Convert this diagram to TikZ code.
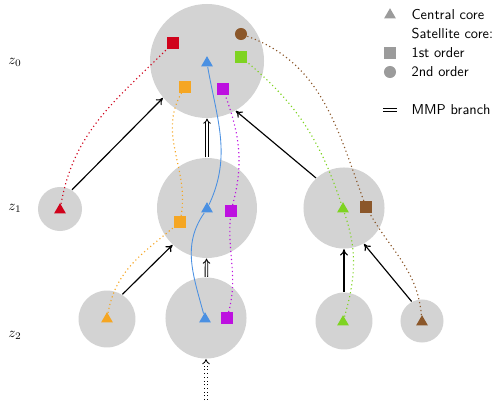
\documentclass[tikz,border=0pt]{standalone}
\usepackage{xcolor}
\usepackage{amsmath}
\usepackage{tikz}
\usetikzlibrary{arrows.meta,shapes.geometric}

\definecolor{haloGray}{RGB}{211,211,211}
\definecolor{keyGray}{HTML}{9B9B9B}
\definecolor{coreRed}{HTML}{D0021B}
\definecolor{coreOrange}{HTML}{F5A623}
\definecolor{coreBrown}{HTML}{8B572A}
\definecolor{coreGreen}{HTML}{7ED321}
\definecolor{corePurple}{HTML}{BD10E0}
\definecolor{coreBlue}{HTML}{4A90E2}

\begin{document}
\begin{tikzpicture}[x=0.0245cm,y=-0.0245cm,>={To[length=4.5pt,width=5.5pt]},thick,
    halo node/.style={circle,fill=haloGray,inner sep=0pt},
    tri node/.style={regular polygon,regular polygon sides=3,inner sep=0pt,minimum size=9.5pt},
    sq node/.style={rectangle,inner sep=0pt,minimum size=7.7pt},
    dot node/.style={circle,inner sep=0pt,minimum size=8.4pt},
    mmp/.style={double,double distance=1.2pt,line width=0.6pt},
    mmp tip/.style={-{Implies[length=4pt,width=7pt]}},
    track/.style={dotted,line width=0.8pt},
    key text/.style={anchor=west,inner sep=0pt,font=\sffamily}]
    \useasboundingbox (0,0) rectangle (498,405);

    % halos
    \node[halo node,minimum size=79.5pt] (0) at (207,61) {};
    \node[halo node,minimum size=30.7pt] (1) at (60,209) {};
    \node[halo node,minimum size=69.7pt] (2) at (207,208) {};
    \node[halo node,minimum size=56.5pt] (3) at (344,208) {};
    \node[halo node,minimum size=39.7pt] (4) at (107,319) {};
    \node[halo node,minimum size=56.5pt] (5) at (206,318) {};
    \node[halo node,minimum size=39.7pt] (6) at (344,321) {};
    \node[halo node,minimum size=30pt] (7) at (422,321) {};

    \node (l0) at (15,62) {$z_0$};
    \node (l1) at (15,208) {$z_1$};
    \node (l2) at (15,335) {$z_2$};

    \path[->]
    (1.58) edge (0.-140)
    (3.133) edge (0.-60)
    (4.58) edge (2.-133)
    (6) edge (3)
    (7.118) edge (3.-61);

    \coordinate (in) at (206,400);
    \draw[mmp,mmp tip] (2) -- (0);
    \draw[mmp,mmp tip] (5) -- (2);
    \draw[mmp,dotted,mmp tip] (in) -- (5);

    % cores
    \node[sq node,fill=coreRed] (0r) at (173,43) {};
    \node[dot node,fill=coreBrown] (0b) at (241,34) {};
    \node[sq node,fill=coreGreen] (0g) at (241,57) {};
    \node[tri node,fill=coreBlue] (0c) at (207,63) {};
    \node[sq node,fill=coreOrange] (0o) at (185,87) {};
    \node[sq node,fill=corePurple] (0p) at (223,89) {};
    \node[tri node,fill=coreRed] (1c) at (60,210) {};
    \node[tri node,fill=coreBlue] (2c) at (207,209) {};
    \node[sq node,fill=corePurple] (2p) at (231,211) {};
    \node[sq node,fill=coreOrange] (2o) at (180,222) {};
    \node[tri node,fill=coreGreen] (3c) at (343,209) {};
    \node[sq node,fill=coreBrown] (3b) at (366,207) {};
    \node[tri node,fill=coreOrange] (4c) at (107,319) {};
    \node[tri node,fill=coreBlue] (5c) at (205,319) {};
    \node[sq node,fill=corePurple] (5p) at (227,318) {};
    \node[tri node,fill=coreGreen] (6c) at (343,322) {};
    \node[tri node,fill=coreBrown] (7c) at (422,322) {};

    \draw[coreBlue,line width=0.6pt] (5c) to[out=105,in=-125] (2c) to[out=65,in=-80] (0c);
    \draw[track,coreRed] (1c) to[out=80,in=-135] (0r);
    \draw[track,coreOrange] (4c) to[out=80,in=-140] (2o) to[out=80,in=-120] (0o);
    \draw[track,corePurple] (5p) to[out=75,in=-95] (2p) to[out=75,in=-70] (0p);
    \draw[track,coreGreen] (6c) to[out=74,in=-70] (3c.center) to[out=108,in=-40] (0g);
    \draw[track,coreBrown] (7c) to[out=95,in=-60] (3b) to[out=110,in=-20] (0b);

    % key
    \node[tri node,fill=keyGray] (k0) at (390,15) {};
    \node[sq node,fill=keyGray] (k1) at (390,53) {};
    \node[dot node,fill=keyGray] (k2) at (390,72) {};
    \coordinate (k3a) at (383,110);
    \coordinate (k3b) at (397,110);
    \draw[mmp] (k3a) -- (k3b);
    \node[key text] (t0) at (411,15) {Central core};
    \node[key text] (t1) at (411,34) {Satellite core:};
    \node[key text] (t2) at (411,53) {1st order};
    \node[key text] (t3) at (411,72) {2nd order};
    \node[key text] (t4) at (411,110) {MMP branch};
  \end{tikzpicture}
\end{document}
